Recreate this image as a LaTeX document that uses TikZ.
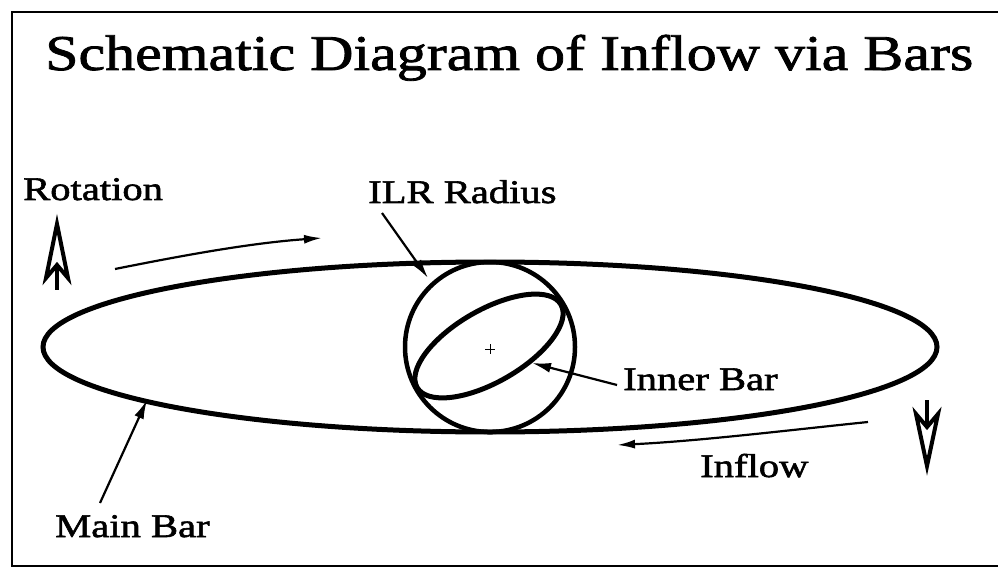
\documentclass[tikz,border=0pt]{standalone}
\usepackage{fontspec}
\setmainfont{Liberation Serif}[FakeStretch=1.23,FakeBold=1.8]
\newfontfamily\titlefont{Liberation Serif}[FakeStretch=1.2,FakeBold=1.6]
\usetikzlibrary{arrows.meta}
\tikzset{
  lbl/.style={inner sep=0pt, anchor=base west, font=\fontsize{33}{36}\selectfont},
  ttl/.style={inner sep=0pt, anchor=base west, font=\titlefont\fontsize{50}{56}\selectfont},
  thick bar/.style={line width=5pt},
  ptr/.style={line width=2.2pt, -{Latex[length=19pt,width=10pt]}},
  flow/.style={line width=2.2pt, -{Latex[length=18pt,width=9pt]}},
  bigarrow/.style={line width=4pt, fill=white, line join=miter},
  frame/.style={line width=2pt}
}
\begin{document}
\begin{tikzpicture}[x=1pt,y=-1pt]
\useasboundingbox (0,0) rectangle (998,572);
% frame
\draw[frame] (998,12) -- (12,12) -- (12,566) -- (998,566);
% title
\node[ttl] (title) at (45,70) {Schematic Diagram of Inflow via Bars};
% main bar, ILR circle, inner bar
\draw[thick bar] (490,347) ellipse [x radius=447, y radius=85];
\node[draw, circle, line width=4.5pt, minimum size=170pt, inner sep=0pt] (ilr) at (490,347) {};
\draw[thick bar, rotate around={30:(489,346)}] (489,346) ellipse [x radius=83, y radius=36];
\draw[line width=1pt] (485,349) -- (495,349) (490,344) -- (490,354);
% labels
\node[lbl] (rot) at (23,200) {Rotation};
\node[lbl] (ilrlbl) at (368,203) {ILR Radius};
\node[lbl] (inner) at (623,390) {Inner Bar};
\node[lbl] (main) at (55,537) {Main Bar};
\node[lbl] (inflow) at (700,477) {Inflow};
% pointer end points
\coordinate (ilrS) at (382,213);
\coordinate (ilrT) at (428,278);
\coordinate (innS) at (617,385);
\coordinate (innT) at (532,363);
\coordinate (mainS) at (100,503);
\coordinate (mainT) at (147,400);
\draw[ptr] (ilrS) -- (ilrT);
\draw[ptr] (innS) -- (innT);
\draw[ptr] (mainS) -- (mainT);
% flow arrows
\coordinate (rotS) at (115,269);
\coordinate (rotT) at (322,238);
\coordinate (infS) at (868,422);
\coordinate (infT) at (617,445);
\draw[flow] (rotS) .. controls (180,256) and (250,243) .. (rotT);
\draw[flow] (infS) .. controls (790,430) and (700,441) .. (infT);
% up arrow
\coordinate (upTip) at (57,224);
\coordinate (upNotch) at (57,265);
\coordinate (upBot) at (57,290);
\draw[line width=4pt] (upNotch) -- (upBot);
\draw[bigarrow] (upTip) -- (46,278) -- (upNotch) -- (68,278) -- cycle;
% down arrow
\coordinate (dnTip) at (927,466);
\coordinate (dnNotch) at (927,427);
\coordinate (dnTop) at (927,400);
\draw[line width=4pt] (dnTop) -- (dnNotch);
\draw[bigarrow] (dnTip) -- (916,414) -- (dnNotch) -- (938,414) -- cycle;
\end{tikzpicture}
\end{document}
